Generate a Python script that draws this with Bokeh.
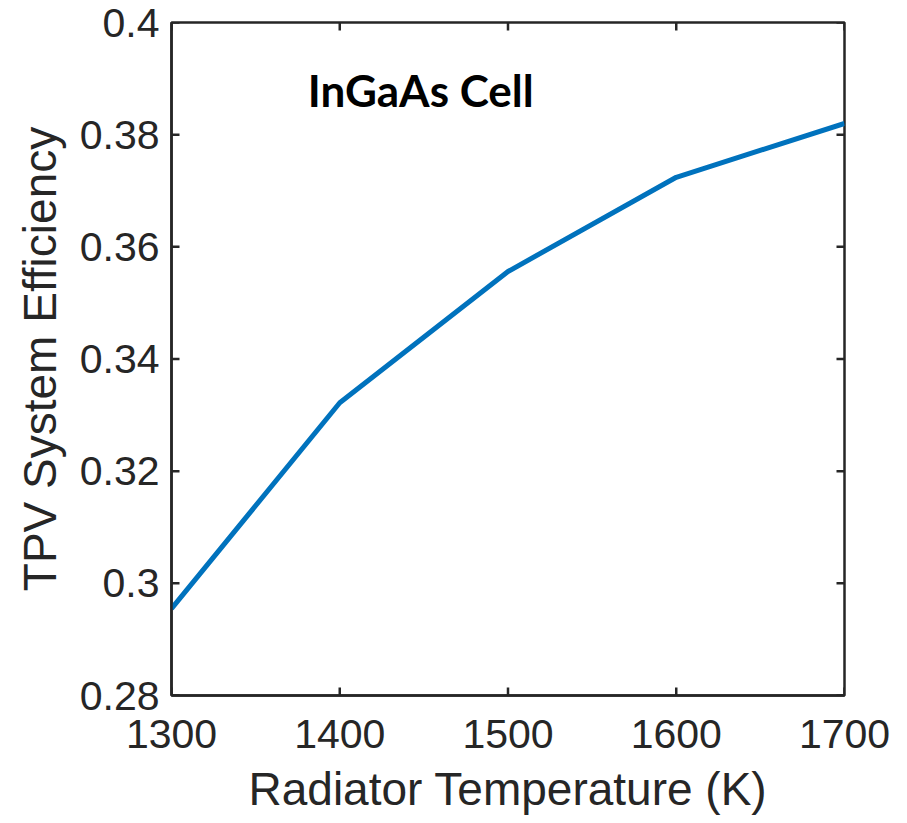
import math
from bokeh.plotting import figure
from bokeh.models import Range1d, FixedTicker, LinearAxis, Label
from bokeh.embed import file_html
from bokeh.resources import INLINE

temperature = [1300, 1400, 1500, 1600, 1700]
efficiency = [0.2955, 0.3322, 0.3556, 0.3724, 0.3820]
x_ticks = [1300, 1400, 1500, 1600, 1700]
y_ticks = [0.28, 0.30, 0.32, 0.34, 0.36, 0.38, 0.40]
y_tick_labels = ["0.28", "0.3", "0.32", "0.34", "0.36", "0.38", "0.4"]
x_label = "Radiator Temperature (K)"
y_label = "TPV System Efficiency"
annotation = "InGaAs Cell"
x_min, x_max = 1300, 1700
y_min, y_max = 0.28, 0.40

AX = "#262626"
FONT = "Liberation Sans"
TICK = 8

p = figure(width=907, height=823, output_backend="svg", toolbar_location=None,
           x_range=Range1d(x_min, x_max), y_range=Range1d(y_min, y_max),
           min_border_left=171, min_border_right=63, min_border_top=22, min_border_bottom=128,
           x_axis_location=None, y_axis_location=None)
p.grid.visible = False
p.outline_line_color = AX
p.outline_line_width = 2.5
p.background_fill_color = "white"
p.border_fill_color = "white"

def style(ax):
    ax.axis_line_color = AX
    ax.axis_line_width = 2.5
    ax.major_tick_line_color = None
    ax.minor_tick_line_color = None
    ax.major_tick_in = 0
    ax.major_tick_out = 0
    ax.major_label_text_font = FONT
    ax.major_label_text_font_size = "41px"
    ax.major_label_text_color = AX
    ax.axis_label_text_font = FONT
    ax.axis_label_text_font_size = "46px"
    ax.axis_label_text_color = AX
    ax.axis_label_text_font_style = "normal"

xb = LinearAxis(ticker=FixedTicker(ticks=x_ticks), axis_label=x_label)
style(xb)
xb.major_label_standoff = 24
xb.axis_label_standoff = 12
p.add_layout(xb, "below")

yl = LinearAxis(ticker=FixedTicker(ticks=y_ticks), axis_label=y_label)
style(yl)
yl.major_label_overrides = {t: s for t, s in zip(y_ticks, y_tick_labels)}
yl.major_label_standoff = 12
yl.axis_label_standoff = 11
p.add_layout(yl, "left")

# inward tick marks on all four sides (MATLAB box style)
tick_kw = dict(length=TICK, length_units="screen", line_color=AX, line_width=2.5)
p.ray(x=x_ticks, y=[y_min] * len(x_ticks), angle=math.pi / 2, **tick_kw)
p.ray(x=x_ticks, y=[y_max] * len(x_ticks), angle=-math.pi / 2, **tick_kw)
p.ray(x=[x_min] * len(y_ticks), y=y_ticks, angle=0, **tick_kw)
p.ray(x=[x_max] * len(y_ticks), y=y_ticks, angle=math.pi, **tick_kw)

p.line(temperature, efficiency, line_color="#0072BD", line_width=5)

lab = Label(x=1381.0, y=0.3879, text=annotation, text_font="Lato",
            text_font_style="bold", text_font_size="44px", text_color="black",
            text_baseline="alphabetic", text_align="left")
p.add_layout(lab)

open("out.html", "w").write(file_html(p, INLINE))
